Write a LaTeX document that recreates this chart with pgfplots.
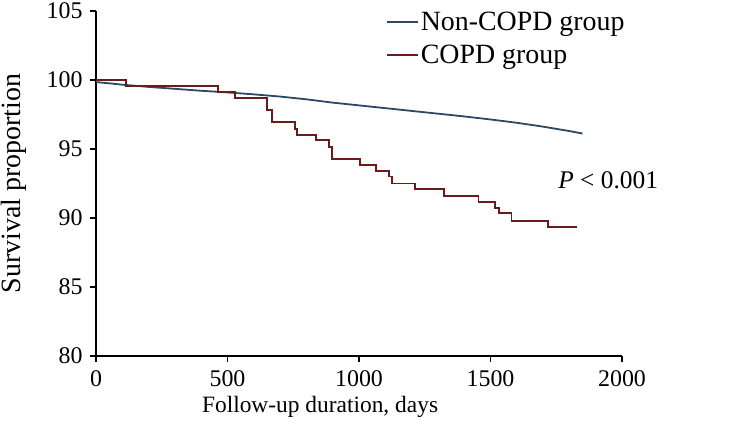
\documentclass[border=0pt]{standalone}
\usepackage{fontspec}
\setmainfont{Liberation Serif}
\usepackage{pgfplots}
\pgfplotsset{compat=1.18}
\definecolor{noncopd}{RGB}{44,72,100}
\definecolor{copd}{RGB}{105,28,28}
\pgfplotstableread{
t s
0 99.85
50 99.76
100 99.66
200 99.50
300 99.36
400 99.22
500 99.10
600 98.96
700 98.80
800 98.60
900 98.36
1000 98.16
1100 97.96
1200 97.76
1300 97.56
1400 97.36
1500 97.14
1600 96.90
1700 96.62
1800 96.30
1850 96.12
}\noncopd
\pgfplotstableread{
t s
0 100
114 99.57
465 99.11
528 98.67
649 97.83
668 96.93
757 96.45
763 96.01
837 95.63
887 95.17
896 94.27
1004 93.85
1065 93.40
1115 93.00
1124 92.50
1213 92.10
1323 91.62
1454 91.18
1517 90.70
1532 90.34
1580 89.80
1720 89.37
1828 89.37
}\copd
\begin{document}
\begin{tikzpicture}
\begin{axis}[
  at={(0,0)}, anchor=south west,
  scale only axis, width=526bp, height=345bp,
  xmin=0, xmax=2000, ymin=80, ymax=105,
  axis lines=left, axis line style={line width=1.1bp, -},
  xtick={0,500,1000,1500,2000}, ytick={80,85,90,95,100,105},
  tick align=outside, major tick length=6bp,
  tick style={line width=1.1bp, black},
  tick label style={font=\fontsize{24}{26}\selectfont},
  xticklabel style={yshift=-5bp},
  yticklabel style={xshift=-4bp},
  /pgf/number format/assume math mode=true,
  /pgf/number format/set thousands separator={},
  xlabel={Follow-up duration, days},
  ylabel={Survival proportion},
  xlabel style={font=\fontsize{23.5}{25}\selectfont, at={(axis description cs:0.426,0)}, anchor=north, yshift=-37bp},
  ylabel style={font=\fontsize{28}{30}\selectfont, at={(axis description cs:0,0.5)}, anchor=south, yshift=66bp},
  clip=false,
  legend style={draw=none, fill=none, at={(0.551,1.003)}, anchor=north west,
    font=\fontsize{28}{30}\selectfont, row sep=9bp, inner sep=0pt},
  legend cell align=left,
  legend image code/.code={\draw[#1] (0bp,0bp) -- (31bp,0bp);},
]
\addplot[noncopd, line width=1.8bp] table[x=t,y=s]{\noncopd};
\addlegendentry{Non-COPD group}
\addplot[copd, line width=1.8bp, const plot mark left] table[x=t,y=s]{\copd};
\addlegendentry{COPD group}
\node[anchor=base west, inner sep=0pt, font=\fontsize{25.5}{27}\selectfont] at (axis cs:1757,92.17) {\textit{P} < 0.001};
\end{axis}
\pgfresetboundingbox
\useasboundingbox (-96bp,-85bp) rectangle (660bp,356bp);
\end{tikzpicture}
\end{document}
